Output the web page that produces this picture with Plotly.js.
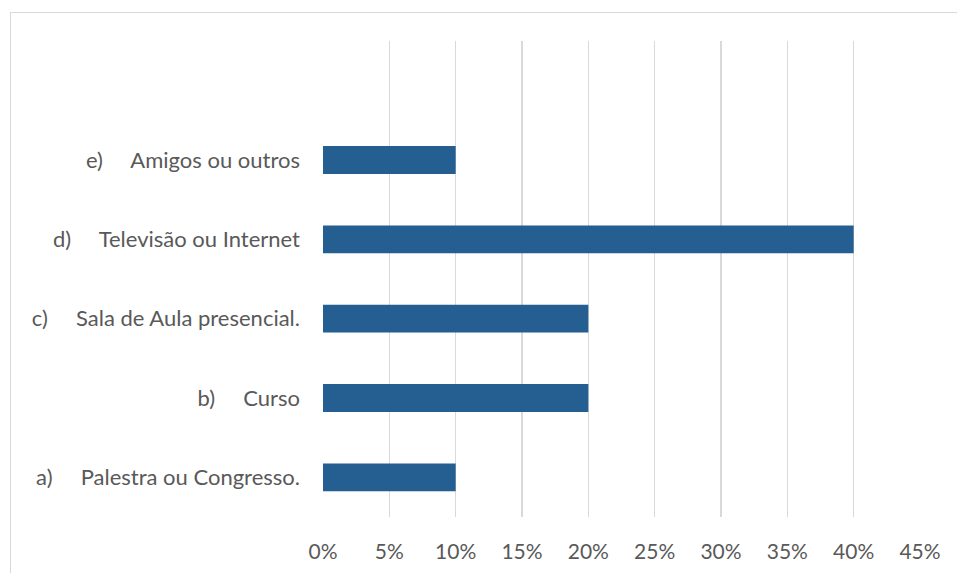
<!DOCTYPE html>
<html>
<head>
<meta charset="utf-8">
<script src="https://cdn.plot.ly/plotly-3.0.1.min.js"></script>
<style>
  html, body { margin: 0; padding: 0; background: #fff; }
  #frame { position: absolute; left: 10px; top: 12px; width: 960px; height: 600px; border-left: 1.5px solid #d9d9d9; border-top: 1.5px solid #d9d9d9; }
  #chart { position: absolute; left: 0; top: 0; width: 957px; height: 573px; }
</style>
</head>
<body>
<div id="frame"></div>
<div id="chart"></div>
<script>
const categories = [
  "a)\u00a0\u00a0\u00a0\u00a0\u00a0Palestra ou Congresso.",
  "b)\u00a0\u00a0\u00a0\u00a0\u00a0Curso",
  "c)\u00a0\u00a0\u00a0\u00a0\u00a0Sala de Aula presencial.",
  "d)\u00a0\u00a0\u00a0\u00a0\u00a0Televisão ou Internet",
  "e)\u00a0\u00a0\u00a0\u00a0\u00a0Amigos ou outros"
];
const values = [0.10, 0.20, 0.20, 0.40, 0.10];
const tickValues = [0, 0.05, 0.10, 0.15, 0.20, 0.25, 0.30, 0.35, 0.40, 0.45];
const tickLabels = ["0%", "5%", "10%", "15%", "20%", "25%", "30%", "35%", "40%", "45%"];

const trace = {
  type: "bar",
  orientation: "h",
  x: values,
  y: categories,
  width: 0.35,
  marker: { color: "#255e91" },
  hoverinfo: "skip"
};

const layout = {
  width: 957,
  height: 573,
  margin: { l: 323, r: 37, t: 41, b: 56 },
  paper_bgcolor: "rgba(0,0,0,0)",
  plot_bgcolor: "rgba(0,0,0,0)",
  showlegend: false,
  font: { family: "Lato, 'Open Sans', sans-serif", size: 21, color: "#595959" },
  xaxis: {
    range: [0, 0.45],
    tickvals: tickValues,
    ticktext: tickLabels,
    showgrid: true,
    gridcolor: "#d9d9d9",
    gridwidth: 1.5,
    zeroline: false,
    showline: false,
    ticks: "",
    ticklabelstandoff: 20,
    tickfont: { size: 21, color: "#595959" },
    fixedrange: true
  },
  yaxis: {
    type: "category",
    categoryorder: "array",
    categoryarray: categories,
    range: [-0.5, 5.5],
    showgrid: false,
    zeroline: false,
    showline: false,
    ticks: "",
    ticklabelstandoff: 22,
    tickfont: { size: 22, color: "#595959" },
    fixedrange: true
  }
};

Plotly.newPlot("chart", [trace], layout, { displayModeBar: false, staticPlot: true });
</script>
</body>
</html>
